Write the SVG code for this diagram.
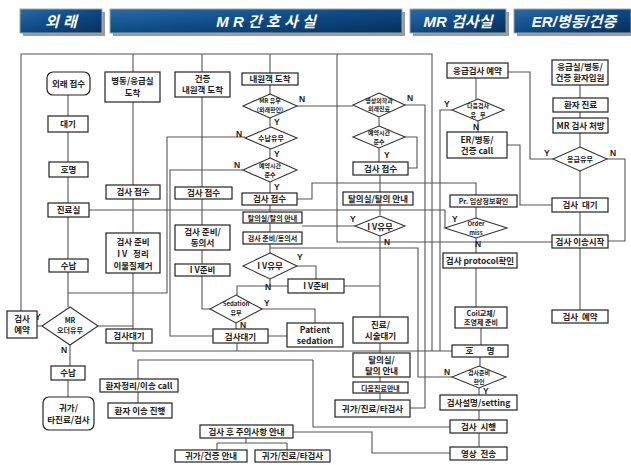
<svg xmlns="http://www.w3.org/2000/svg" width="631" height="465" viewBox="0 0 631 465">
<defs>
<linearGradient id="bg" x1="0" y1="0" x2="1" y2="1">
<stop offset="0" stop-color="#2a6aa8"/>
<stop offset="0.5" stop-color="#0d4a85"/>
<stop offset="1" stop-color="#072f5a"/>
</linearGradient>
<style>
.bn{fill:url(#bg);stroke:#9aa;stroke-width:1}
.sh{fill:#9a9a9a}
.bt{font-family:"Liberation Sans","Noto Sans CJK KR",sans-serif;font-size:15px;font-weight:bold;font-style:italic;fill:#fff;text-anchor:middle}
.b{fill:#fff;stroke:#222;stroke-width:1.2}
.d{fill:#fff;stroke:#333;stroke-width:1.1}
.l{fill:none;stroke:#555;stroke-width:1.1}
.t{font-family:"Noto Sans CJK KR","Noto Sans",sans-serif;font-size:8.5px;font-weight:bold;fill:#222;text-anchor:middle}
.s{font-family:"Noto Sans CJK KR","Noto Sans",sans-serif;font-size:7px;font-weight:bold;fill:#222;text-anchor:middle}
.x{font-family:"Noto Sans CJK KR","Noto Sans",sans-serif;font-size:6px;font-weight:bold;fill:#222;text-anchor:middle}
.y{font-family:"Liberation Sans",sans-serif;font-size:8.5px;font-weight:bold;fill:#222}
</style>
</defs>
<rect width="631" height="465" fill="#fff"/>

<g id="headers">
<rect class="sh" x="23" y="12" width="82" height="24"/>
<rect class="bn" x="20" y="9" width="82" height="24"/>
<text class="bt" x="61" y="27">외 래</text>
<rect class="sh" x="113" y="12" width="292" height="24"/>
<rect class="bn" x="110" y="9" width="292" height="24"/>
<text class="bt" x="266" y="27">M R 간 호 사 실</text>
<rect class="sh" x="413" y="12" width="96" height="24"/>
<rect class="bn" x="410" y="9" width="96" height="24"/>
<text class="bt" x="458" y="27">MR 검사실</text>
<rect class="sh" x="517" y="12" width="114" height="24"/>
<rect class="bn" x="514" y="9" width="117" height="24"/>
<text class="bt" x="574" y="27">ER/병동/건증</text>
</g>

<g id="connectors">
<path class="l" d="M21,311 V54 H432 V351"/>
<path class="l" d="M68,95 V116 M68,132 V162 M68,177 V203 M68,217 V259 M68,272 V307 M68,293 H167 V137 H245"/>
<path class="l" d="M42,326 H37 M70,345 V366 M68,380 V397 M98,326 H133"/>
<path class="l" d="M133,54 V72 M133,102 V185 M133,199 V233 M133,273 V329 M133,343 V351 H452"/>
<path class="l" d="M89,210 H445 V228"/>
<path class="l" d="M202,54 V72 M202,97 V187 M202,199 V225 M202,250 V264 M202,276 V309 H210"/>
<path class="l" d="M243,170 H170 V336 H213 M262,309 H315 V323 M236,323 V329 M268,336 H287 M237,343 V351"/>
<path class="l" d="M237,295 V286 H288 M270,279 V286 M297,266 H316 V279"/>
<path class="l" d="M270,54 V73 M270,85 V94 M270,118 V127 M270,149 V158 M270,182 V193 M270,205 V212 M270,223 V232 M270,244 V253"/>
<path class="l" d="M297,106 H353 M297,199 H312 V183 H476 V195"/>
<path class="l" d="M379,117 V126 M379,148 V162 M405,137 H417 V168 H408 M380,175 V192 M380,205 V215 M380,235 V317 M343,286 H380 M302,226 H355"/>
<path class="l" d="M270,248 H418 V377 H452 M405,105 H425 V408 H410 M452,110 H440 V351"/>
<path class="l" d="M380,343 V353 M380,377 V382 M380,393 V400"/>
<path class="l" d="M313,360 H138 V379 M138,392 V403 M313,360 V427 H450"/>
<path class="l" d="M293,432 H372 V453 H450 M246,438 V443 M217,443 H287 M217,443 V450 M287,443 V450"/>
<path class="l" d="M476,78 V100 M478,121 V132 M507,145 H520 V205 H552 M508,72 H530 V159 H553"/>
<path class="l" d="M476,207 V218 M476,238 V253 M476,268 V307 M481,328 V345 M480,357 V366 M479,388 V395 M479,410 V420 M479,433 V447"/>
<path class="l" d="M580,85 V98 M580,112 V118 M580,133 V147 M580,171 V198 M580,212 V235 M580,248 V310 M607,159 H625 V241 H608 M552,242 H337 V54"/>
</g>

<g id="n-outpatient-reception"><rect class="b" x="47" y="72" width="43" height="23" rx="6"/><text class="t" x="68.5" y="86.5">외래 접수</text></g>
<g id="n-wait1"><rect class="b" x="48" y="116" width="40" height="16"/><text class="t" x="68" y="127">대기</text></g>
<g id="n-call1"><rect class="b" x="49" y="162" width="39" height="15"/><text class="t" x="68.5" y="172.5">호명</text></g>
<g id="n-clinic"><rect class="b" x="48" y="203" width="41" height="14"/><text class="t" x="68.5" y="213">진료실</text></g>
<g id="n-pay1"><rect class="b" x="49" y="259" width="39" height="13"/><text class="t" x="68.5" y="268.5">수납</text></g>
<g id="n-mr-order"><polygon class="d" points="70,307 98,326 70,345 42,326"/><text class="s" x="70" y="323">MR</text><text class="s" x="70" y="333">오더유무</text></g>
<text class="y" x="35" y="320">Y</text><text class="y" x="61" y="353">N</text>
<g id="n-reserve-left"><rect class="b" x="7" y="311" width="30" height="27"/><text class="t" x="22" y="322">검사</text><text class="t" x="22" y="333">예약</text></g>
<g id="n-pay2"><rect class="b" x="51" y="366" width="34" height="14"/><text class="t" x="68" y="376">수납</text></g>
<g id="n-home1"><rect class="b" x="43" y="397" width="51" height="33" rx="6"/><text class="t" x="68.5" y="411">귀가/</text><text class="t" x="68.5" y="423">타진료/검사</text></g>

<g id="n-ward-arrive"><rect class="b" x="105" y="72" width="55" height="30"/><text class="t" x="132.5" y="84">병동/응급실</text><text class="t" x="132.5" y="96">도착</text></g>
<g id="n-recv2"><rect class="b" x="106" y="185" width="54" height="14"/><text class="t" x="133" y="195">검사 접수</text></g>
<g id="n-prep2"><rect class="b" x="106" y="233" width="54" height="40"/><text class="t" x="133" y="245">검사 준비</text><text class="t" x="133" y="257">I V &#160; 정리</text><text class="t" x="133" y="269">이물질제거</text></g>
<g id="n-wait2"><rect class="b" x="106" y="329" width="46" height="14"/><text class="t" x="129" y="339">검사대기</text></g>
<g id="n-transfer-call"><rect class="b" x="100" y="379" width="78" height="13"/><text class="t" x="139" y="388.5">환자정리/이송 call</text></g>
<g id="n-transfer"><rect class="b" x="108" y="403" width="64" height="15"/><text class="t" x="140" y="413.5">환자 이송 진행</text></g>

<g id="n-checkup-arrive"><rect class="b" x="175" y="72" width="55" height="25"/><text class="t" x="202.5" y="82">건증</text><text class="t" x="202.5" y="93">내원객 도착</text></g>
<g id="n-recv3"><rect class="b" x="175" y="187" width="57" height="12"/><text class="t" x="203.5" y="196">검사 접수</text></g>
<g id="n-prep3"><rect class="b" x="175" y="225" width="55" height="25"/><text class="t" x="202.5" y="235">검사 준비/</text><text class="t" x="202.5" y="246">동의서</text></g>
<g id="n-iv3"><rect class="b" x="175" y="264" width="55" height="12"/><text class="t" x="202.5" y="273">I V준비</text></g>
<g id="n-sedation"><polygon class="d" points="236,295 262,309 236,323 210,309"/><text class="x" x="236" y="306">Sedation</text><text class="x" x="236" y="315">유무</text></g>
<text class="y" x="264" y="306">Y</text><text class="y" x="240" y="328">N</text>
<g id="n-wait3"><rect class="b" x="213" y="329" width="55" height="14"/><text class="t" x="240.5" y="339.5">검사대기</text></g>
<g id="n-patient-sedation"><rect class="b" x="287" y="323" width="56" height="24"/><text class="t" x="315" y="333">Patient</text><text class="t" x="315" y="344">sedation</text></g>

<g id="n-visitor-arrive"><rect class="b" x="242" y="73" width="56" height="12"/><text class="t" x="270" y="82">내원객 도착</text></g>
<g id="n-mr-check"><polygon class="d" points="270,94 297,106 270,118 243,106"/><text class="x" x="270" y="103">MR 유무</text><text class="x" x="270" y="112">(외래확인)</text></g>
<text class="y" x="299" y="102">N</text><text class="y" x="274" y="125">Y</text>
<g id="n-pay-check"><polygon class="d" points="271,127 297,138 271,149 245,138"/><text class="s" x="271" y="141">수납유무</text></g>
<text class="y" x="236" y="137">N</text><text class="y" x="274" y="157">Y</text>
<g id="n-time-check"><polygon class="d" points="270,158 297,170 270,182 243,170"/><text class="x" x="270" y="168">예약시간</text><text class="x" x="270" y="177">준수</text></g>
<text class="y" x="234" y="168">N</text><text class="y" x="274" y="190">Y</text>
<g id="n-recv4"><rect class="b" x="242" y="193" width="55" height="12"/><text class="t" x="269.5" y="202">검사 접수</text></g>
<g id="n-dress4"><rect class="b" x="243" y="212" width="59" height="11"/><text class="s" x="272.5" y="220.5">탈의실/탈의 안내</text></g>
<g id="n-prep4"><rect class="b" x="243" y="232" width="59" height="12"/><text class="s" x="272.5" y="241">검사 준비/동의서</text></g>
<g id="n-iv-check4"><polygon class="d" points="270,253 297,266 270,279 243,266"/><text class="t" x="270" y="269">I V유무</text></g>
<text class="y" x="297" y="260">Y</text><text class="y" x="265" y="290">N</text>
<g id="n-iv4"><rect class="b" x="288" y="279" width="56" height="14"/><text class="t" x="316" y="289">I V준비</text></g>

<g id="n-radiology-clinic"><polygon class="d" points="379,93 405,105 379,117 353,105"/><text class="x" x="379" y="103">영상의학과</text><text class="x" x="379" y="111">외래진료</text></g>
<text class="y" x="407" y="101">N</text>
<g id="n-time-check5"><polygon class="d" points="379,126 405,137 379,148 353,137"/><text class="x" x="379" y="135">예약시간</text><text class="x" x="379" y="144">준수</text></g>
<text class="y" x="384" y="158">Y</text>
<g id="n-recv5"><rect class="b" x="353" y="162" width="55" height="13"/><text class="t" x="380.5" y="172">검사 접수</text></g>
<g id="n-dress5"><rect class="b" x="343" y="192" width="70" height="13"/><text class="t" x="378" y="202">탈의실/탈의 안내</text></g>
<g id="n-iv-check5"><polygon class="d" points="380,216 405,226 380,236 355,226"/><text class="t" x="380" y="229.5">I V유무</text></g>
<text class="y" x="350" y="222">Y</text><text class="y" x="384" y="245">N</text>
<g id="n-clinic-wait"><rect class="b" x="353" y="317" width="55" height="26"/><text class="t" x="380.5" y="328">진료/</text><text class="t" x="380.5" y="339">시술대기</text></g>
<g id="n-dress6"><rect class="b" x="353" y="353" width="57" height="24"/><text class="t" x="381.5" y="363">탈의실/</text><text class="t" x="381.5" y="374">탈의 안내</text></g>
<g id="n-next-clinic"><rect class="b" x="353" y="382" width="55" height="11"/><text class="s" x="380.5" y="390.5">다음진료안내</text></g>
<g id="n-home6"><rect class="b" x="335" y="400" width="75" height="17"/><text class="t" x="372.5" y="411.5">귀가/진료/타검사</text></g>

<g id="n-emerg-reserve"><rect class="b" x="447" y="63" width="61" height="15"/><text class="t" x="477.5" y="73.5">응급검사 예약</text></g>
<g id="n-next-exam"><polygon class="d" points="478,99 504,110 478,121 452,110"/><text class="x" x="478" y="108">다음검사</text><text class="x" x="478" y="117">유 &#160; 무</text></g>
<text class="y" x="444" y="107">Y</text><text class="y" x="473" y="130">N</text>
<g id="n-er-call"><rect class="b" x="447" y="132" width="60" height="26"/><text class="t" x="477" y="143">ER/병동/</text><text class="t" x="477" y="154">건증 call</text></g>
<g id="n-clinical-info"><rect class="b" x="450" y="195" width="67" height="12"/><text class="s" x="483.5" y="204">Pr. 임상정보확인</text></g>
<g id="n-order-miss"><polygon class="d" points="476,218 507,228 476,238 445,228"/><text class="x" x="476" y="226">Order</text><text class="x" x="476" y="235">miss</text></g>
<text class="y" x="452" y="222">Y</text><text class="y" x="475" y="247">N</text>
<g id="n-protocol"><rect class="b" x="443" y="253" width="74" height="15"/><text class="t" x="480" y="263.5">검사 protocol확인</text></g>
<g id="n-coil"><rect class="b" x="455" y="307" width="52" height="21"/><text class="s" x="481" y="316">Coil교체/</text><text class="s" x="481" y="325">조영제 준비</text></g>
<g id="n-call-mr"><rect class="b" x="452" y="345" width="56" height="12"/><text class="t" x="480" y="354">호 &#160; &#160; &#160; 명</text></g>
<g id="n-prep-check"><polygon class="d" points="479,366 506,377 479,388 452,377"/><text class="x" x="479" y="375">검사준비</text><text class="x" x="479" y="384">확인</text></g>
<text class="y" x="444" y="375">N</text><text class="y" x="483" y="394">Y</text>
<g id="n-setting"><rect class="b" x="440" y="395" width="77" height="15"/><text class="t" x="478.5" y="405.5">검사설명/setting</text></g>
<g id="n-exam"><rect class="b" x="450" y="420" width="57" height="13"/><text class="t" x="478.5" y="430">검사 &#160;시행</text></g>
<g id="n-image-send"><rect class="b" x="450" y="447" width="57" height="13"/><text class="t" x="478.5" y="457">영상 &#160;전송</text></g>

<g id="n-after-care"><rect class="b" x="200" y="425" width="93" height="13"/><text class="t" x="246.5" y="435">검사 후 주의사항 안내</text></g>
<g id="n-home-checkup"><rect class="b" x="175" y="450" width="72" height="12"/><text class="t" x="211" y="459">귀가/건증 안내</text></g>
<g id="n-home-other"><rect class="b" x="255" y="450" width="75" height="12"/><text class="t" x="292.5" y="459">귀가/진료/타검사</text></g>

<g id="n-er-admit"><rect class="b" x="552" y="60" width="56" height="25"/><text class="t" x="580" y="70">응급실/병동/</text><text class="t" x="580" y="81">건증 환자입원</text></g>
<g id="n-er-clinic"><rect class="b" x="553" y="98" width="55" height="14"/><text class="t" x="580.5" y="108">환자 진료</text></g>
<g id="n-mr-rx"><rect class="b" x="553" y="118" width="55" height="15"/><text class="t" x="580.5" y="128.5">MR 검사 처방</text></g>
<g id="n-emerg-check"><polygon class="d" points="580,147 607,159 580,171 553,159"/><text class="s" x="580" y="162">응급유무</text></g>
<text class="y" x="544" y="156">Y</text><text class="y" x="610" y="156">N</text>
<g id="n-er-wait"><rect class="b" x="552" y="198" width="56" height="14"/><text class="t" x="580" y="208">검사 &#160;대기</text></g>
<g id="n-er-transfer"><rect class="b" x="552" y="235" width="56" height="13"/><text class="t" x="580" y="244.5">검사 이송시작</text></g>
<g id="n-er-reserve"><rect class="b" x="552" y="310" width="56" height="13"/><text class="t" x="580" y="319.5">검사 &#160;예약</text></g>
</svg>
